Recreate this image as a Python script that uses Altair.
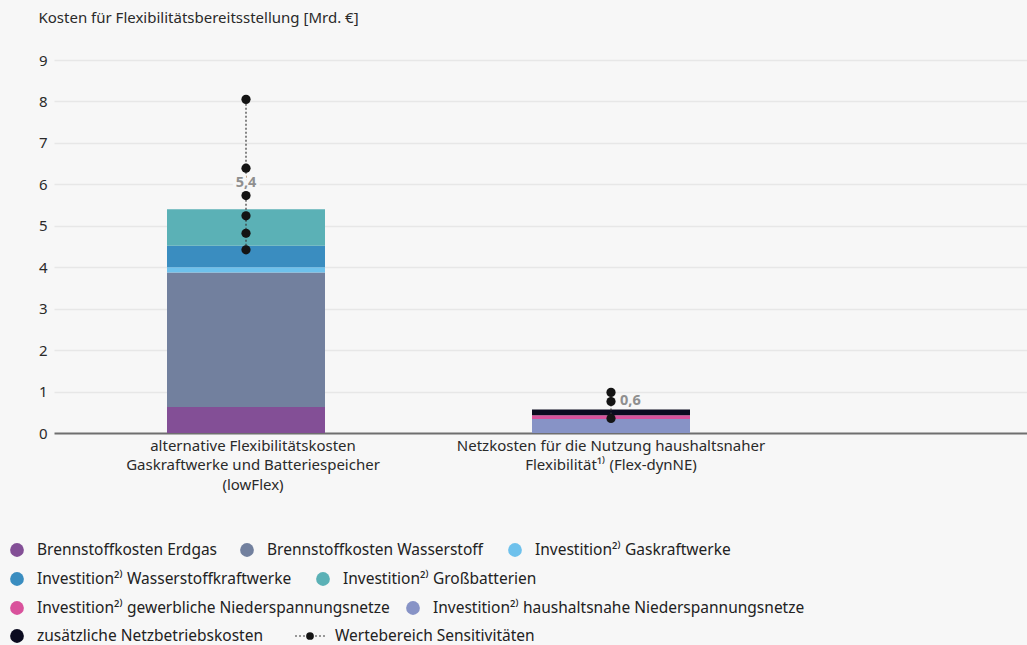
import altair as alt
import pandas as pd

FONT = "Noto Sans"

# Scenario categories (x axis), line breaks mark the label wrapping
categories = [
    "alternative Flexibilitätskosten\nGaskraftwerke und Batteriespeicher\n(lowFlex)",
    "Netzkosten für die Nutzung haushaltsnaher\nFlexibilität¹⁾ (Flex-dynNE)",
]

# Cost components, in legend order
components = [
    "Brennstoffkosten Erdgas",
    "Brennstoffkosten Wasserstoff",
    "Investition²⁾ Gaskraftwerke",
    "Investition²⁾ Wasserstoffkraftwerke",
    "Investition²⁾ Großbatterien",
    "Investition²⁾ gewerbliche Niederspannungsnetze",
    "Investition²⁾ haushaltsnahe Niederspannungsnetze",
    "zusätzliche Netzbetriebskosten",
]
component_colors = ["#834f96", "#72809e", "#6ec1ec", "#3a8dc0",
                    "#5bb1b6", "#d9529c", "#8793c6", "#0b0b1f"]
# bottom-to-top position of each component inside a stack
stack_rank = [0, 1, 2, 3, 4, 6, 5, 7]

# Costs in bn EUR per component
lowflex_costs = [0.63, 3.24, 0.13, 0.52, 0.88, 0.0, 0.0, 0.0]
flexdyn_costs = [0.0, 0.0, 0.0, 0.0, 0.0, 0.09, 0.34, 0.14]

# Sensitivity results in bn EUR
lowflex_sensitivities = [8.05, 6.39, 5.73, 5.24, 4.82, 4.42]
flexdyn_sensitivities = [0.98, 0.76, 0.35]

range_label = "Wertebereich Sensitivitäten"
y_title = "Kosten für Flexibilitätsbereitsstellung [Mrd. €]"
y_ticks = [0, 1, 2, 3, 4, 5, 6, 7, 8, 9]

# ---- tables -------------------------------------------------------------
rows = []
for cat, costs in zip(categories, [lowflex_costs, flexdyn_costs]):
    for comp, val, rank in zip(components, costs, stack_rank):
        if val > 0:
            rows.append({"category": cat, "component": comp, "value": val, "rank": rank})
bars_df = pd.DataFrame(rows)

sens_df = pd.DataFrame(
    [{"category": categories[0], "value": v} for v in lowflex_sensitivities]
    + [{"category": categories[1], "value": v} for v in flexdyn_sensitivities]
)

totals_df = pd.DataFrame({
    "category": categories,
    "total": [sum(lowflex_costs), sum(flexdyn_costs)],
})
totals_df["label"] = totals_df["total"].map(lambda t: f"{t:.1f}".replace(".", ","))

# ---- page layout (pixels) ----------------------------------------------
PLOT_LEFT, PLOT_TOP = 54, 60
W, H = 1027 - PLOT_LEFT, 373
BAR_W = 158
STEP = 365
# band scale spans the full plot width; the unused outer padding sits mostly right
OUTER = (W / STEP - 2) / 2
FIRST_BAND = 246 - PLOT_LEFT - STEP / 2
ALIGN = FIRST_BAND / (W - 2 * STEP)

AXIS_FS = 15
LEG_FS = 15.5

# legend rows: entries (component index or "range") and their left page x
legend_rows = [
    ([0, 1, 2], [17, 247, 515]),
    ([3, 4], [17, 323]),
    ([5, 6], [17, 413]),
    ([7, "range"], [17, 295]),
]
legend_row_y = [550, 579, 608, 636]

leg_items = []
for (entries, xs), py in zip(legend_rows, legend_row_y):
    for e, px in zip(entries, xs):
        if e == "range":
            continue
        leg_items.append({
            "label": components[e],
            "color": component_colors[e],
            "sx": px - PLOT_LEFT,
            "tx": px - PLOT_LEFT + 20,
            "y": py - PLOT_TOP,
        })
leg_df = pd.DataFrame(leg_items)

rx = 295 - PLOT_LEFT
ry = legend_row_y[3] - PLOT_TOP
range_df = pd.DataFrame({"x": [rx], "x2": [rx + 30], "xm": [rx + 15],
                         "tx": [rx + 40], "y": [ry], "label": [range_label]})

# ---- chart ---------------------------------------------------------------
x_enc = alt.X(
    "category:N",
    sort=categories,
    scale=alt.Scale(domain=categories, paddingInner=0, paddingOuter=OUTER, align=ALIGN),
    axis=alt.Axis(
        title=None, labelAngle=0, ticks=False, domain=False,
        labelExpr="split(datum.label, '\\n')",
        labelOffset=alt.condition("datum.index === 0", alt.value(7), alt.value(0)),
        labelFontSize=AXIS_FS, labelColor="#2a2a2a", labelFont=FONT,
        labelPadding=5, labelLineHeight=19.5, labelLimit=0, labelBaseline="top",
    ),
)
y_scale = alt.Scale(domain=[0, 9], nice=False, zero=True)

bars = alt.Chart(bars_df).mark_bar(size=BAR_W).encode(
    x=x_enc,
    y=alt.Y(
        "value:Q", stack="zero", scale=y_scale,
        axis=alt.Axis(
            values=y_ticks, ticks=False, domain=False,
            labelFontSize=AXIS_FS, labelColor="#2a2a2a", labelFont=FONT, labelPadding=7,
            gridColor=alt.condition("datum.value === 0", alt.value("#6f6f6f"), alt.value("#e7e7e7")),
            gridWidth=alt.condition("datum.value === 0", alt.value(2), alt.value(1.5)),
            title=y_title, titleAngle=0, titleAlign="left", titleBaseline="middle",
            titleX=38 - PLOT_LEFT, titleY=17 - PLOT_TOP,
            titleFontSize=AXIS_FS, titleFontWeight="normal", titleColor="#2a2a2a", titleFont=FONT,
        ),
    ),
    color=alt.Color("component:N", scale=alt.Scale(domain=components, range=component_colors),
                    legend=None),
    order=alt.Order("rank:Q", sort="ascending"),
)

range_rule = alt.Chart(sens_df).mark_rule(
    color="#3a3a3a", strokeDash=[2, 2], strokeWidth=1.2
).encode(
    x=alt.X("category:N", sort=categories),
    y=alt.Y("min(value):Q"),
    y2=alt.Y2("max(value):Q"),
)

sens_points = alt.Chart(sens_df).mark_circle(size=85, color="#141414", opacity=1).encode(
    x=alt.X("category:N", sort=categories),
    y=alt.Y("value:Q"),
)

label_style = dict(fontSize=14.5, fontWeight="bold", font=FONT, baseline="middle")
label_enc = dict(x=alt.X("category:N", sort=categories), y=alt.Y("total:Q"), text="label:N")

low_base = alt.Chart(totals_df).transform_filter(alt.datum.category == categories[0])
dyn_base = alt.Chart(totals_df).transform_filter(alt.datum.category == categories[1])

# the lowFlex total sits on the dotted range line, so it gets a background halo
low_halo = low_base.mark_text(dy=-26, align="center", color="#f7f7f7", stroke="#f7f7f7",
                              strokeWidth=7, strokeJoin="round", **label_style).encode(**label_enc)
low_text = low_base.mark_text(dy=-26, align="center", color="#8f8f8f",
                              **label_style).encode(**label_enc)
dyn_text = dyn_base.mark_text(dy=-8, dx=9, align="left", color="#8f8f8f",
                              **label_style).encode(**label_enc)

# ---- legend ----------------------------------------------------------------
leg_sym = alt.Chart(leg_df).mark_circle(size=190, opacity=1).encode(
    x=alt.X("sx:Q", scale=None, axis=None),
    y=alt.Y("y:Q", scale=None, axis=None),
    color=alt.Color("color:N", scale=None, legend=None),
)
leg_txt = alt.Chart(leg_df).mark_text(
    align="left", baseline="middle", fontSize=LEG_FS, color="#222222", font=FONT
).encode(
    x=alt.X("tx:Q", scale=None, axis=None),
    y=alt.Y("y:Q", scale=None, axis=None),
    text="label:N",
)
range_line = alt.Chart(range_df).mark_rule(
    color="#3a3a3a", strokeDash=[2, 2], strokeWidth=1.2
).encode(
    x=alt.X("x:Q", scale=None, axis=None),
    x2="x2:Q",
    y=alt.Y("y:Q", scale=None, axis=None),
)
range_dot = alt.Chart(range_df).mark_circle(size=60, color="#141414", opacity=1).encode(
    x=alt.X("xm:Q", scale=None, axis=None),
    y=alt.Y("y:Q", scale=None, axis=None),
)
range_txt = alt.Chart(range_df).mark_text(
    align="left", baseline="middle", fontSize=LEG_FS, color="#222222", font=FONT
).encode(
    x=alt.X("tx:Q", scale=None, axis=None),
    y=alt.Y("y:Q", scale=None, axis=None),
    text="label:N",
)

main = alt.layer(bars, range_rule, low_halo, low_text, dyn_text, sens_points)
legend = alt.layer(leg_sym, leg_txt, range_line, range_dot, range_txt)

chart = alt.layer(main, legend).resolve_scale(x="independent", y="independent").properties(
    width=W,
    height=H,
    autosize=alt.AutoSizeParams(type="none"),
    padding={"left": PLOT_LEFT, "top": PLOT_TOP, "right": 0, "bottom": 645 - PLOT_TOP - H},
    background="#f7f7f7",
).configure_view(stroke=None)

chart.save("out.html", embed_options={"renderer": "svg", "actions": False})
